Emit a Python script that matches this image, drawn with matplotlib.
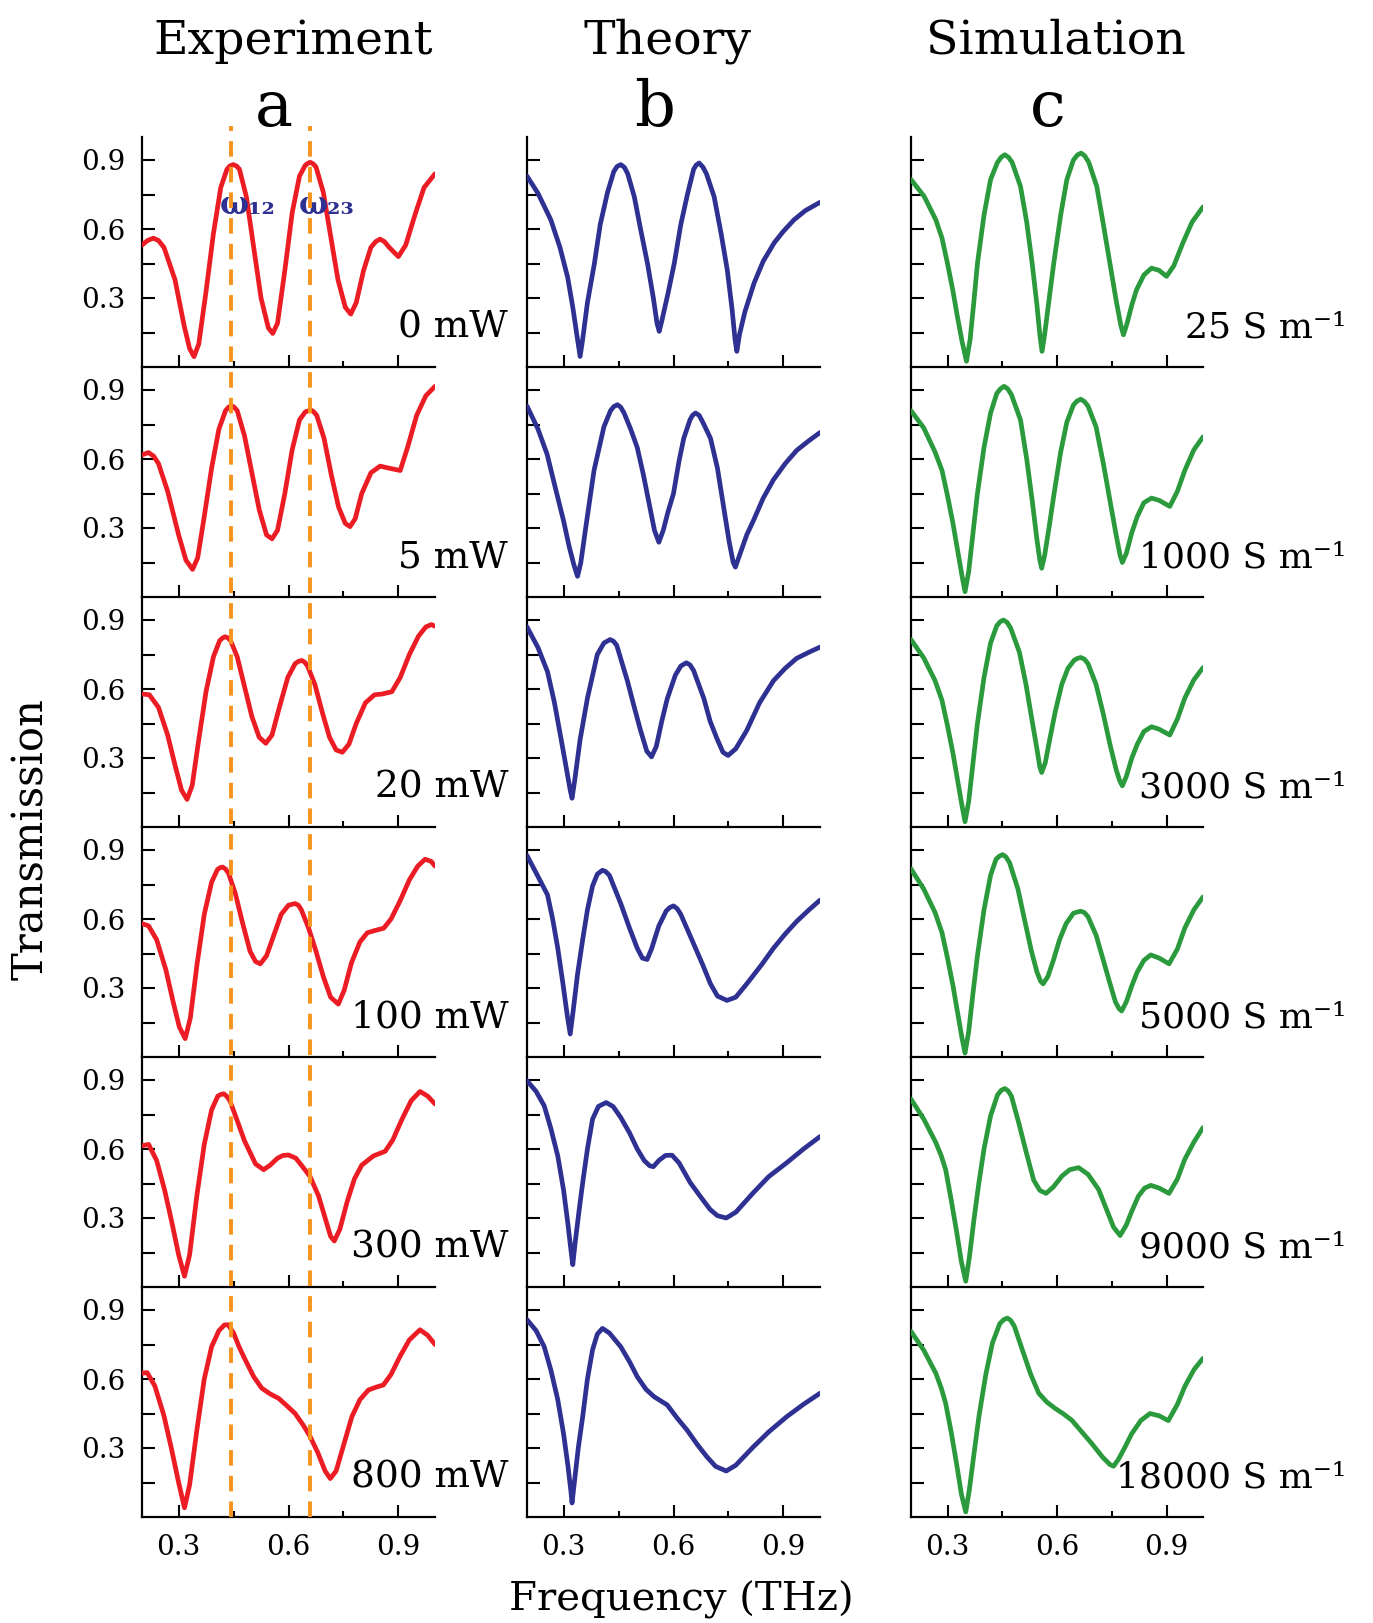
import matplotlib
matplotlib.use("Agg")
import matplotlib.pyplot as plt
from matplotlib.lines import Line2D
from matplotlib.transforms import blended_transform_factory

plt.rcParams['font.family'] = ['DejaVu Serif']
plt.rcParams['mathtext.fontset'] = 'dejavuserif'

# ---------------- data (frequency in THz, transmission) ----------------
col_titles = ["Experiment", "Theory", "Simulation"]
col_letters = ["a", "b", "c"]
exp_labels = ["0 mW", "5 mW", "20 mW", "100 mW", "300 mW", "800 mW"]
sim_labels = ["25 S m⁻¹", "1000 S m⁻¹", "3000 S m⁻¹", "5000 S m⁻¹", "9000 S m⁻¹", "18000 S m⁻¹"]
marker_freqs = [0.442, 0.659]
marker_names = ["ω₁₂", "ω₂₃"]

exp0_f = [0.20, 0.215, 0.231, 0.245, 0.26, 0.29, 0.315, 0.33, 0.342, 0.355, 0.375, 0.395, 0.415, 0.432,
          0.44, 0.449, 0.458, 0.466, 0.485, 0.505, 0.525, 0.545, 0.557, 0.57, 0.59, 0.61, 0.63, 0.645,
          0.651, 0.659, 0.667, 0.675, 0.695, 0.715, 0.735, 0.755, 0.770, 0.785, 0.805, 0.825, 0.838,
          0.85, 0.862, 0.875, 0.90, 0.92, 0.945, 0.97, 1.0]
exp0_t = [0.53, 0.55, 0.56, 0.55, 0.52, 0.38, 0.18, 0.08, 0.045, 0.10, 0.33, 0.58, 0.78, 0.86,
          0.874, 0.88, 0.874, 0.86, 0.74, 0.52, 0.30, 0.17, 0.146, 0.19, 0.42, 0.67, 0.83, 0.875,
          0.884, 0.89, 0.884, 0.87, 0.76, 0.57, 0.38, 0.26, 0.23, 0.28, 0.42, 0.52, 0.545,
          0.556, 0.545, 0.52, 0.48, 0.53, 0.66, 0.78, 0.84]

exp5_f = [0.20, 0.218, 0.232, 0.245, 0.27, 0.30, 0.32, 0.338, 0.352, 0.37, 0.39, 0.41, 0.428, 0.436,
          0.444, 0.452, 0.46, 0.48, 0.50, 0.52, 0.54, 0.555, 0.57, 0.59, 0.61, 0.63, 0.646, 0.661,
          0.669, 0.677, 0.697, 0.717, 0.737, 0.755, 0.768, 0.782, 0.80, 0.825, 0.85, 0.875, 0.905,
          0.925, 0.95, 0.975, 1.0]
exp5_t = [0.618, 0.628, 0.612, 0.58, 0.46, 0.27, 0.16, 0.12, 0.17, 0.35, 0.56, 0.73, 0.81, 0.825,
          0.832, 0.825, 0.81, 0.70, 0.54, 0.38, 0.27, 0.253, 0.29, 0.45, 0.64, 0.77, 0.805, 0.813,
          0.805, 0.79, 0.69, 0.53, 0.39, 0.32, 0.306, 0.34, 0.45, 0.54, 0.569, 0.56, 0.55,
          0.65, 0.79, 0.875, 0.916]

exp20_f = [0.20, 0.22, 0.245, 0.27, 0.29, 0.308, 0.323, 0.337, 0.355, 0.375, 0.395, 0.412, 0.42, 0.427,
           0.435, 0.442, 0.46, 0.48, 0.50, 0.52, 0.538, 0.555, 0.575, 0.598, 0.618, 0.627, 0.636,
           0.644, 0.652, 0.672, 0.692, 0.712, 0.73, 0.747, 0.765, 0.785, 0.81, 0.835, 0.855, 0.882,
           0.905, 0.93, 0.955, 0.975, 0.99, 1.0]
exp20_t = [0.578, 0.575, 0.52, 0.40, 0.27, 0.16, 0.12, 0.18, 0.38, 0.59, 0.74, 0.81, 0.822, 0.827,
           0.822, 0.81, 0.74, 0.61, 0.48, 0.39, 0.364, 0.40, 0.52, 0.65, 0.71, 0.72, 0.724,
           0.717, 0.70, 0.62, 0.50, 0.39, 0.335, 0.325, 0.36, 0.45, 0.54, 0.575, 0.578, 0.588,
           0.65, 0.75, 0.83, 0.87, 0.88, 0.873]

exp100_f = [0.20, 0.218, 0.24, 0.265, 0.285, 0.302, 0.318, 0.332, 0.35, 0.37, 0.39, 0.406, 0.413, 0.42,
            0.428, 0.436, 0.455, 0.475, 0.495, 0.51, 0.523, 0.54, 0.56, 0.58, 0.60, 0.618, 0.627,
            0.635, 0.655, 0.675, 0.695, 0.715, 0.736, 0.752, 0.772, 0.795, 0.815, 0.836, 0.86,
            0.88, 0.905, 0.93, 0.953, 0.973, 0.99, 1.0]
exp100_t = [0.58, 0.57, 0.51, 0.38, 0.24, 0.13, 0.08, 0.17, 0.40, 0.62, 0.76, 0.815, 0.823, 0.826,
            0.817, 0.80, 0.71, 0.58, 0.46, 0.415, 0.405, 0.44, 0.53, 0.62, 0.66, 0.667, 0.66,
            0.64, 0.56, 0.46, 0.35, 0.26, 0.23, 0.29, 0.41, 0.50, 0.54, 0.55, 0.56,
            0.60, 0.68, 0.77, 0.83, 0.86, 0.85, 0.83]

exp300_f = [0.20, 0.218, 0.24, 0.262, 0.283, 0.30, 0.316, 0.33, 0.35, 0.37, 0.39, 0.407, 0.415, 0.423,
            0.431, 0.44, 0.455, 0.48, 0.51, 0.532, 0.55, 0.57, 0.585, 0.60,
            0.62, 0.64, 0.659, 0.682, 0.70, 0.715, 0.725, 0.74, 0.76, 0.78, 0.80, 0.832, 0.864,
            0.885, 0.91, 0.935, 0.959, 0.98, 1.0]
exp300_t = [0.614, 0.62, 0.55, 0.42, 0.27, 0.14, 0.047, 0.14, 0.40, 0.62, 0.77, 0.83, 0.837, 0.84,
            0.83, 0.81, 0.745, 0.635, 0.535, 0.51, 0.53, 0.56, 0.572, 0.574,
            0.56, 0.52, 0.48, 0.396, 0.30, 0.22, 0.20, 0.25, 0.37, 0.47, 0.53, 0.57, 0.59,
            0.64, 0.73, 0.81, 0.85, 0.83, 0.796]

exp800_f = [0.20, 0.214, 0.235, 0.26, 0.28, 0.30, 0.316, 0.33, 0.35, 0.37, 0.39, 0.41, 0.425, 0.435,
            0.45, 0.465, 0.482, 0.505, 0.527, 0.55, 0.573, 0.598, 0.618, 0.64, 0.659, 0.68, 0.70, 0.714,
            0.73, 0.75, 0.773, 0.795, 0.818, 0.84, 0.859,
            0.88, 0.905, 0.93, 0.959, 0.98, 1.0]
exp800_t = [0.625, 0.628, 0.57, 0.44, 0.30, 0.15, 0.04, 0.14, 0.38, 0.60, 0.74, 0.81, 0.835, 0.836,
            0.80, 0.74, 0.683, 0.61, 0.56, 0.535, 0.516, 0.48, 0.45, 0.40, 0.35, 0.28, 0.20, 0.167,
            0.20, 0.31, 0.436, 0.51, 0.552, 0.565, 0.574,
            0.62, 0.70, 0.77, 0.814, 0.79, 0.75]

th0_f = [0.20, 0.23, 0.265, 0.29, 0.311, 0.325, 0.337, 0.345, 0.352, 0.365, 0.384, 0.40, 0.42, 0.437, 0.446,
         0.456, 0.466, 0.475, 0.493, 0.51, 0.529, 0.545, 0.555, 0.561, 0.568, 0.585, 0.602, 0.62, 0.638,
         0.655, 0.662, 0.67, 0.68, 0.69, 0.711, 0.73, 0.747, 0.76, 0.768, 0.773, 0.78, 0.795, 0.82,
         0.845, 0.875, 0.90, 0.929, 0.96, 1.0]
th0_t = [0.83, 0.755, 0.64, 0.52, 0.39, 0.26, 0.13, 0.046, 0.12, 0.28, 0.45, 0.62, 0.76, 0.85, 0.872,
         0.88, 0.868, 0.84, 0.74, 0.60, 0.45, 0.30, 0.19, 0.155, 0.20, 0.32, 0.45, 0.62, 0.75,
         0.86, 0.878, 0.887, 0.87, 0.84, 0.74, 0.58, 0.42, 0.25, 0.12, 0.068, 0.14, 0.24, 0.365,
         0.46, 0.54, 0.59, 0.64, 0.68, 0.716]

th5_f = [0.20, 0.23, 0.255, 0.275, 0.30, 0.315, 0.328, 0.338, 0.347, 0.362, 0.383, 0.41, 0.428, 0.437,
         0.447, 0.456, 0.465, 0.483, 0.501, 0.518, 0.533, 0.548, 0.56, 0.572, 0.585, 0.60, 0.615, 0.628,
         0.645, 0.652, 0.66, 0.67, 0.68, 0.701, 0.72, 0.737, 0.752, 0.763, 0.769, 0.78, 0.80, 0.819,
         0.845, 0.873, 0.905, 0.936, 0.97, 1.0]
th5_t = [0.83, 0.73, 0.62, 0.49, 0.33, 0.22, 0.14, 0.09, 0.15, 0.32, 0.55, 0.74, 0.81, 0.828,
         0.836, 0.825, 0.80, 0.73, 0.65, 0.53, 0.41, 0.29, 0.238, 0.29, 0.37, 0.45, 0.59, 0.69,
         0.77, 0.79, 0.80, 0.79, 0.76, 0.69, 0.56, 0.39, 0.24, 0.15, 0.13, 0.18, 0.27, 0.335,
         0.43, 0.51, 0.58, 0.637, 0.68, 0.715]

th20_f = [0.20, 0.23, 0.256, 0.275, 0.293, 0.308, 0.318, 0.323, 0.33, 0.345, 0.365, 0.392, 0.41, 0.427,
          0.436, 0.445, 0.474, 0.493, 0.51, 0.527, 0.54, 0.553, 0.568, 0.583, 0.605, 0.62, 0.635,
          0.645, 0.655, 0.683, 0.70, 0.719, 0.735, 0.749, 0.77, 0.80, 0.835, 0.873, 0.905, 0.936, 0.97, 1.0]
th20_t = [0.87, 0.78, 0.675, 0.54, 0.383, 0.25, 0.16, 0.125, 0.20, 0.38, 0.56, 0.75, 0.80, 0.815,
          0.808, 0.79, 0.636, 0.52, 0.42, 0.33, 0.305, 0.35, 0.46, 0.558, 0.66, 0.70, 0.714,
          0.705, 0.68, 0.558, 0.46, 0.383, 0.325, 0.311, 0.34, 0.42, 0.54, 0.636, 0.69, 0.733, 0.76, 0.782]

th100_f = [0.20, 0.225, 0.256, 0.27, 0.284, 0.298, 0.31, 0.318, 0.326, 0.338, 0.352, 0.365, 0.379, 0.392,
           0.406, 0.415, 0.425, 0.456, 0.48, 0.501, 0.515, 0.528, 0.54, 0.56, 0.58, 0.59, 0.60,
           0.61, 0.62, 0.655, 0.68, 0.701, 0.72, 0.746, 0.77, 0.80, 0.84, 0.873, 0.905, 0.936, 0.97, 1.0]
th100_t = [0.876, 0.80, 0.705, 0.60, 0.473, 0.32, 0.18, 0.10, 0.20, 0.36, 0.51, 0.64, 0.744, 0.795,
           0.812, 0.806, 0.79, 0.667, 0.56, 0.473, 0.43, 0.424, 0.47, 0.57, 0.635, 0.65, 0.657,
           0.645, 0.62, 0.492, 0.40, 0.318, 0.265, 0.246, 0.26, 0.318, 0.40, 0.473, 0.535, 0.589, 0.64, 0.682]

th300_f = [0.20, 0.225, 0.247, 0.265, 0.284, 0.30, 0.312, 0.32, 0.325, 0.332, 0.342, 0.352, 0.365, 0.379,
           0.395, 0.416, 0.435, 0.456, 0.48, 0.501, 0.52, 0.535, 0.545, 0.56, 0.578, 0.596,
           0.615, 0.646, 0.675, 0.70, 0.72, 0.744, 0.77, 0.818, 0.86, 0.909, 0.955, 1.0]
th300_t = [0.897, 0.85, 0.788, 0.69, 0.57, 0.42, 0.27, 0.16, 0.097, 0.20, 0.33, 0.453, 0.60, 0.73,
           0.785, 0.802, 0.785, 0.737, 0.67, 0.60, 0.55, 0.527, 0.523, 0.55, 0.572, 0.573,
           0.54, 0.453, 0.39, 0.337, 0.31, 0.30, 0.325, 0.41, 0.48, 0.54, 0.60, 0.654]

th800_f = [0.20, 0.225, 0.247, 0.265, 0.284, 0.30, 0.312, 0.32, 0.323, 0.33, 0.34, 0.352, 0.365, 0.379,
           0.392, 0.406, 0.425, 0.456, 0.48, 0.501, 0.525, 0.547, 0.565, 0.583,
           0.61, 0.637, 0.665, 0.691, 0.715, 0.744, 0.77, 0.818, 0.86, 0.909, 0.955, 1.0]
th800_t = [0.858, 0.81, 0.74, 0.64, 0.51, 0.36, 0.22, 0.11, 0.061, 0.16, 0.30, 0.436, 0.60, 0.727,
           0.795, 0.82, 0.80, 0.74, 0.675, 0.61, 0.555, 0.523, 0.505, 0.487,
           0.43, 0.378, 0.315, 0.262, 0.22, 0.20, 0.225, 0.305, 0.37, 0.436, 0.49, 0.538]

sim25_f = [0.20, 0.236, 0.268, 0.285, 0.30, 0.315, 0.327, 0.34, 0.352, 0.362, 0.372, 0.382, 0.40, 0.418,
           0.437, 0.447, 0.457, 0.467, 0.477, 0.50, 0.517, 0.532, 0.545, 0.553, 0.559, 0.566, 0.578, 0.591,
           0.61, 0.627, 0.645, 0.656, 0.666, 0.676, 0.687, 0.709, 0.727, 0.745, 0.762, 0.775, 0.782, 0.792,
           0.805, 0.818, 0.838, 0.859, 0.88, 0.90, 0.92, 0.945, 0.97, 1.0]
sim25_t = [0.815, 0.742, 0.64, 0.56, 0.45, 0.33, 0.22, 0.11, 0.025, 0.12, 0.28, 0.45, 0.66, 0.815,
           0.89, 0.912, 0.923, 0.912, 0.89, 0.785, 0.63, 0.45, 0.27, 0.14, 0.068, 0.14, 0.29, 0.45,
           0.66, 0.815, 0.90, 0.922, 0.93, 0.918, 0.89, 0.785, 0.62, 0.45, 0.29, 0.18, 0.14, 0.19,
           0.27, 0.336, 0.40, 0.43, 0.42, 0.394, 0.44, 0.54, 0.63, 0.696]

sim1000_f = [0.20, 0.235, 0.266, 0.285, 0.30, 0.315, 0.328, 0.34, 0.348, 0.358, 0.37, 0.382, 0.40, 0.418,
             0.435, 0.445, 0.455, 0.465, 0.475, 0.50, 0.517, 0.532, 0.545, 0.553, 0.558, 0.566, 0.578,
             0.592, 0.61, 0.627, 0.645, 0.655, 0.665, 0.675, 0.685, 0.707, 0.727, 0.745, 0.762, 0.773,
             0.779, 0.79, 0.805, 0.82, 0.838, 0.859, 0.88, 0.909, 0.93, 0.95, 0.975, 1.0]
sim1000_t = [0.81, 0.735, 0.63, 0.55, 0.44, 0.32, 0.20, 0.09, 0.023, 0.11, 0.28, 0.45, 0.65, 0.80,
             0.885, 0.905, 0.916, 0.905, 0.88, 0.77, 0.60, 0.42, 0.25, 0.16, 0.125, 0.18, 0.30,
             0.45, 0.63, 0.76, 0.835, 0.852, 0.86, 0.85, 0.83, 0.74, 0.58, 0.42, 0.27, 0.18,
             0.15, 0.19, 0.28, 0.35, 0.41, 0.43, 0.42, 0.394, 0.46, 0.55, 0.64, 0.696]

sim3000_f = [0.20, 0.235, 0.266, 0.285, 0.30, 0.315, 0.328, 0.34, 0.348, 0.358, 0.37, 0.382, 0.40, 0.418,
             0.435, 0.444, 0.453, 0.463, 0.473, 0.497, 0.515, 0.532, 0.545, 0.553, 0.558, 0.568, 0.58,
             0.595, 0.613, 0.63, 0.647, 0.656, 0.665, 0.675, 0.685, 0.707, 0.727, 0.745, 0.762, 0.772,
             0.779, 0.79, 0.805, 0.82, 0.838, 0.859, 0.88, 0.909, 0.93, 0.95, 0.975, 1.0]
sim3000_t = [0.815, 0.735, 0.636, 0.55, 0.44, 0.32, 0.20, 0.09, 0.023, 0.11, 0.28, 0.45, 0.65, 0.80,
             0.875, 0.892, 0.90, 0.89, 0.865, 0.76, 0.62, 0.46, 0.34, 0.26, 0.237, 0.28, 0.38,
             0.50, 0.62, 0.69, 0.725, 0.733, 0.737, 0.73, 0.71, 0.62, 0.49, 0.36, 0.25, 0.20,
             0.179, 0.22, 0.30, 0.36, 0.415, 0.436, 0.425, 0.40, 0.47, 0.56, 0.64, 0.693]

sim5000_f = [0.20, 0.235, 0.266, 0.285, 0.30, 0.315, 0.328, 0.34, 0.348, 0.358, 0.37, 0.382, 0.40, 0.418,
             0.433, 0.442, 0.451, 0.46, 0.47, 0.493, 0.512, 0.53, 0.545, 0.555, 0.562, 0.575, 0.59, 0.607,
             0.625, 0.645, 0.655, 0.665, 0.675, 0.685, 0.707, 0.727, 0.745, 0.76, 0.77, 0.777, 0.79,
             0.805, 0.82, 0.838, 0.857, 0.88, 0.907, 0.93, 0.95, 0.975, 1.0]
sim5000_t = [0.818, 0.73, 0.628, 0.54, 0.43, 0.31, 0.19, 0.08, 0.017, 0.11, 0.28, 0.44, 0.64, 0.79,
             0.86, 0.873, 0.88, 0.87, 0.845, 0.73, 0.59, 0.46, 0.37, 0.33, 0.318, 0.35, 0.42, 0.51,
             0.58, 0.625, 0.63, 0.634, 0.628, 0.61, 0.53, 0.42, 0.32, 0.24, 0.21, 0.20, 0.24,
             0.31, 0.37, 0.42, 0.444, 0.43, 0.405, 0.47, 0.56, 0.64, 0.696]

sim9000_f = [0.20, 0.235, 0.268, 0.283, 0.295, 0.31, 0.325, 0.338, 0.35, 0.36, 0.373, 0.386, 0.40, 0.418,
             0.437, 0.447, 0.457, 0.466, 0.475, 0.495, 0.515, 0.536, 0.553, 0.57, 0.59, 0.614, 0.635, 0.659,
             0.685, 0.714, 0.735, 0.755, 0.773, 0.79, 0.805, 0.823, 0.84, 0.857, 0.88, 0.907,
             0.93, 0.95, 0.975, 1.0]
sim9000_t = [0.817, 0.73, 0.628, 0.57, 0.51, 0.38, 0.24, 0.11, 0.025, 0.13, 0.30, 0.453, 0.60, 0.744,
             0.835, 0.855, 0.863, 0.853, 0.83, 0.715, 0.59, 0.465, 0.42, 0.407, 0.435, 0.483, 0.51, 0.519,
             0.49, 0.424, 0.34, 0.26, 0.224, 0.27, 0.33, 0.395, 0.43, 0.442, 0.43, 0.407,
             0.47, 0.555, 0.63, 0.693]

sim18000_f = [0.20, 0.235, 0.268, 0.283, 0.295, 0.31, 0.325, 0.338, 0.35, 0.36, 0.373, 0.386, 0.405, 0.423,
              0.443, 0.454, 0.464, 0.473, 0.483, 0.505, 0.528, 0.55, 0.572, 0.595, 0.618, 0.641, 0.668, 0.695,
              0.725, 0.745, 0.755, 0.768, 0.785, 0.805, 0.83, 0.855, 0.88, 0.905,
              0.93, 0.95, 0.975, 1.0]
sim18000_t = [0.807, 0.725, 0.625, 0.56, 0.494, 0.37, 0.23, 0.10, 0.022, 0.12, 0.28, 0.436, 0.62, 0.756,
              0.84, 0.858, 0.865, 0.855, 0.83, 0.727, 0.62, 0.538, 0.50, 0.472, 0.448, 0.42, 0.37, 0.32,
              0.26, 0.228, 0.221, 0.25, 0.30, 0.363, 0.42, 0.45, 0.44, 0.419,
              0.49, 0.567, 0.64, 0.69]

exp_f = [exp0_f, exp5_f, exp20_f, exp100_f, exp300_f, exp800_f]
exp_t = [exp0_t, exp5_t, exp20_t, exp100_t, exp300_t, exp800_t]
th_f = [th0_f, th5_f, th20_f, th100_f, th300_f, th800_f]
th_t = [th0_t, th5_t, th20_t, th100_t, th300_t, th800_t]
sim_f = [sim25_f, sim1000_f, sim3000_f, sim5000_f, sim9000_f, sim18000_f]
sim_t = [sim25_t, sim1000_t, sim3000_t, sim5000_t, sim9000_t, sim18000_t]

colors = ["#ec1c24", "#2e3192", "#2a9a3c"]
orange = "#f7941d"

# ---------------- layout ----------------
W, H = 1373, 1623
fig = plt.figure(figsize=(W / 100, H / 100), dpi=100)

col_left = [142, 527, 911]
col_width = [293, 293, 292]
row_h = 230
top_y = 137

axes = []
for c in range(3):
    col_axes = []
    for r in range(6):
        bottom_px = top_y + row_h * (r + 1)
        ax = fig.add_axes([col_left[c] / W, 1 - bottom_px / H, col_width[c] / W, row_h / H])
        col_axes.append(ax)
    axes.append(col_axes)

datasets = [(exp_f, exp_t), (th_f, th_t), (sim_f, sim_t)]

for c in range(3):
    fs, ts = datasets[c]
    for r in range(6):
        ax = axes[c][r]
        pts = sorted(zip(fs[r], ts[r]))
        ax.plot([p[0] for p in pts], [p[1] for p in pts], color=colors[c], lw=3.4,
                solid_joinstyle='round', solid_capstyle='round', zorder=3)
        ax.set_xlim(0.2, 1.0)
        ax.set_ylim(0.0, 1.0)
        ax.patch.set_alpha(0)
        for s in ['top', 'right']:
            ax.spines[s].set_visible(False)
        for s in ['left', 'bottom']:
            ax.spines[s].set_linewidth(1.6)
        ax.set_xticks([0.3, 0.6, 0.9])
        ax.set_xticks([0.45, 0.75], minor=True)
        ax.set_yticks([0.3, 0.6, 0.9])
        ax.set_yticks([0.15, 0.45, 0.75], minor=True)
        ax.tick_params(which='major', direction='in', length=9, width=1.5,
                       labelsize=20, pad=12)
        ax.tick_params(which='minor', axis='x', direction='in', length=4.5, width=1.5)
        ax.tick_params(which='minor', axis='y', direction='in', length=9, width=1.5)
        ax.set_yticklabels(['0.3', '0.6', '0.9'] if c == 0 else [])
        ax.set_xticklabels(['0.3', '0.6', '0.9'] if r == 5 else [])
        if c == 0:
            ax.text(1.25, 0.17, exp_labels[r], transform=ax.transAxes, ha='right',
                    va='center', fontsize=27)
        if c == 2:
            ax.text(1.49, 0.17, sim_labels[r], transform=ax.transAxes, ha='right',
                    va='center', fontsize=26)

# dashed resonance markers spanning the experiment column
trans = blended_transform_factory(axes[0][0].transData, fig.transFigure)
y_top = 1 - 126 / H
y_bot = 1 - (top_y + 6 * row_h) / H
for f in marker_freqs:
    fig.add_artist(Line2D([f, f], [y_bot, y_top], transform=trans, color=orange,
                          lw=2.8, dashes=(4.0, 2.6), zorder=5))
for f, name in zip(marker_freqs, marker_names):
    axes[0][0].text(f - 0.03, 0.70, name, color="#2e3192", fontsize=22,
                    fontweight='bold', ha='left', va='center', zorder=6)

# titles
title_x = [293, 668, 1056]
letter_x = [274, 655, 1048]
for c in range(3):
    fig.text(title_x[c] / W, 1 - 54 / H, col_titles[c], ha='center', va='baseline', fontsize=34)
    fig.text(letter_x[c] / W, 1 - 126 / H, col_letters[c], ha='center', va='baseline', fontsize=46)

fig.text(31 / W, 1 - 839 / H, "Transmission", rotation=90, ha='center', va='center', fontsize=30)
fig.text(681 / W, 1 - 1600 / H, "Frequency (THz)", ha='center', va='center', fontsize=29)

fig.savefig("out.png", dpi=100)
